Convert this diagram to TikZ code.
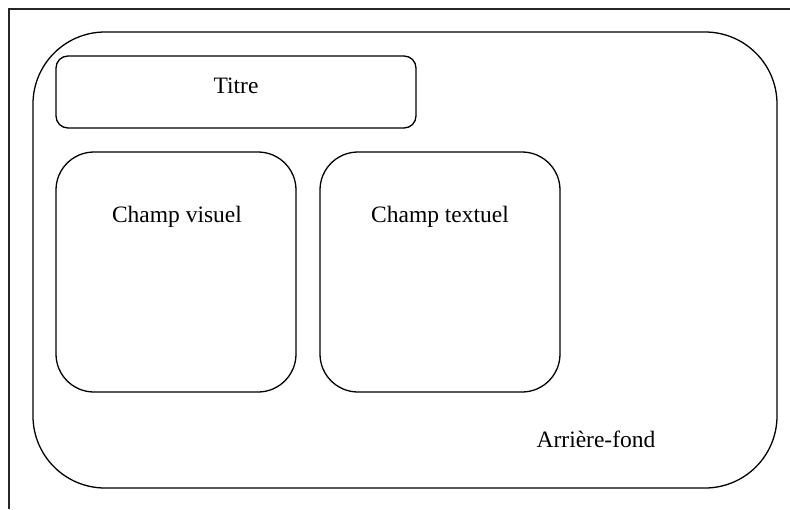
\documentclass[tikz,border=0pt]{standalone}
\usepackage{fontspec}
\setmainfont{Liberation Serif}
\begin{document}
\begin{tikzpicture}[x=1pt,y=-1pt,
  frameline/.style={line width=1.1pt, draw=black!85},
  boxline/.style={line width=1.3pt, draw=black},
  lbl/.style={font=\fontsize{23.5}{28}\selectfont, anchor=base, inner sep=0pt}]
\useasboundingbox (0,0) rectangle (790,509);
% outer frame (top and left lines only)
\coordinate (ftr) at (790,9);
\coordinate (ftl) at (9,9);
\coordinate (fbl) at (9,509);
\draw[frameline] (ftr) -- (ftl) -- (fbl);
% background
\draw[boxline, rounded corners=72pt] (33,32) rectangle (777,488);
% title box
\draw[boxline, rounded corners=12pt] (56,56) rectangle (416,128);
% fields
\draw[boxline, rounded corners=38pt] (56,152) rectangle (296,392);
\draw[boxline, rounded corners=38pt] (320,152) rectangle (560,392);
% labels
\node[lbl] (titre) at (236,93) {Titre};
\node[lbl] (visuel) at (177,222) {Champ visuel};
\node[lbl] (textuel) at (440,222) {Champ textuel};
\node[lbl] (fond) at (596,447) {Arrière-fond};
\end{tikzpicture}
\end{document}
